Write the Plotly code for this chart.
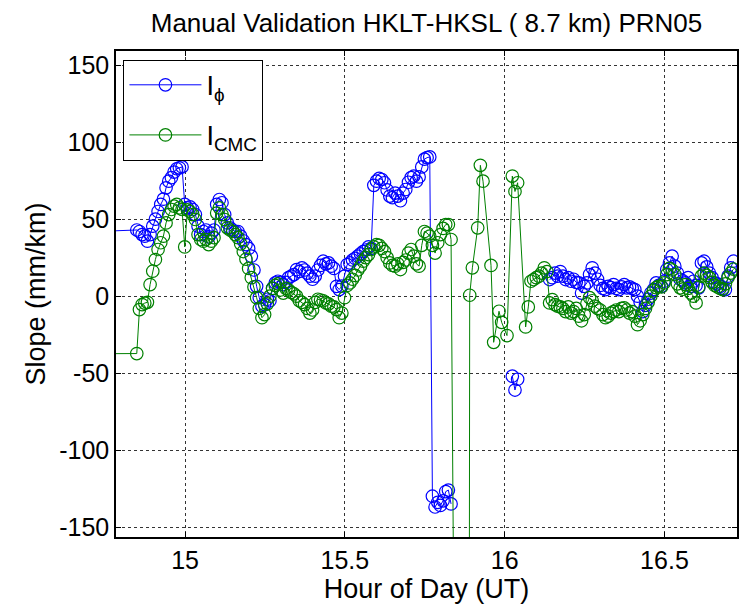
import numpy as np
import plotly.graph_objects as go

# 30-second epochs, hour of day (UT)
t_start = 14.849
n_epochs = 225
hours = t_start + np.arange(n_epochs) / 120.0

# epoch preceding the plotted window (joins the trace to the left edge)
hour_prev = 14.6
phi_prev = 41.0
cmc_prev = -37.5

nan = float("nan")

# Ionospheric slope from carrier phase, mm/km
slope_phi = [
    43, 42, 40, 39, 35.7, 40, 45.5, 50, 55, 59.6,
    63, 70.4, 74.7, 77, 80.6, 82.8, 83.4, 84, 59.6, 57.4,
    58, 56.3, 53, 45.5, 40, 42, 43, 38.5, 41, 43,
    59.6, 62.8, 60.7, 53, 47.6, 44.4, 43, 42, 42, 39,
    36, 33.5, 31, 26, 17, 6.4, -1, -6.5, -5.5, -2,
    -3, 5, 8.6, 9.7, 9, 7.5, 9, 12, 13, 14,
    17.3, 16, 18.4, 17, 15, 13, 11, 13, 17, 20,
    22.7, 21, 21.6, 19.5, 18, 6.4, 4.3, 6.5, 13, 20.5,
    21.6, 23.5, 24.5, 26, 27.5, 29, 30, 32, 31, 72,
    74.7, 76.5, 75.8, 73.7, 69, 65, 64, 67, 65, 62,
    67, 69.3, 74, 77, 78, 74.7, 77.5, 84, 89, 90,
    90.5, -130, -137, -134, -136, -133, -127, -126, -135,
    nan, nan, nan, nan, nan, nan, nan, nan, nan, nan, nan,
    nan, nan, nan, nan, nan, nan, nan, nan, nan, nan, nan,
    -52, -61, -54,
    nan, nan, nan, nan, nan, nan, nan, nan, nan, nan, nan,
    10.8, 12, 15, 13, 16, 13, 10.8, 12, 9.7, 11,
    9, 8.6, 2, 6.4, 8.6, 14, 18.4, 15, 11, 7,
    5, 4.3, 6.4, 5.5, 7.5, 5, 4.3, 6, 7.5, 5.4,
    6, 5, 4.3, 0, -4, -10, -6, -2, 2, 4.3,
    8.6, 7, 6.4, 9.7, 17.3, 21.6, 26, 19.5, 15, 11,
    10, 8.6, 12, 6.4, 9.7, 7, 5.4, 21.6, 22.7, 19,
    15, 12, 8.6, 8, 6.4, 5, 4.3, 13, 18.4, 22.7,
]

# Ionospheric slope from code-minus-carrier, mm/km
slope_cmc = [
    -37.3, -8.7, -5.5, -4.5, -4, 7.5, 16.2, 23.8, 30.3, 34.7,
    39, 47.6, 53, 56.3, 58.5, 59.6, 57.4, 56.3, 32, 56,
    55, 53, 49.8, 40, 36.8, 35.7, 36.8, 33.5, 35.7, 38,
    54, 57.4, 53, 49.8, 44.4, 43, 42, 40, 38, 34,
    29, 24, 18, 12, 6, -1, -8, -14, -12, -5,
    0, 5, 7, 8, 4, 2, 5, 4, 2.5, 1.5,
    0, -3, -4, -5.5, -8, -11, -9, -4, -2, -2.5,
    -3, -4.4, -5, -6.5, -7, -8.7, -14, -11, -1, 7,
    8.6, 11, 13.5, 17, 19.5, 22.7, 25, 27, 30.3, 32,
    33.5, 33, 31, 29, 25, 21.6, 20, 19.5, 21, 17.3,
    22, 23.5, 28, 30.3, 26, 21, 19.5, 33, 42, 41,
    39, 33, 28, 34.7, 40, 44, 46.5, 46.5, 36.8,
    -200, -600, -900, -1200, -1300, -1400,
    0.6, 18.4, nan, 44.4, 85, 74.7,
    nan, nan, 20, -30, nan, -9.8, -17, nan, -25.6, nan,
    78, 68, 73.7, nan, nan, -20, -7, 9.7, 10.8, 12,
    13, 15, 18.4, 16, -4.4, -2.2, -5.5, -6.5, -7, -8,
    -10, -7, -11, -10, -8, -13, -16, -12, -5, -1,
    -3, -6.5, -8, -9, -12, -14, -13, -11, -10, -9,
    -10, -8, -7.6, -9, -11, -10, -13, -18.5, -16, -12,
    -8, -4, 0, 3.5, 5.5, 6.4, 6, 8.6, 14, 18,
    17, 14, 8, 5.4, 4.5, 7.5, 5, 2, 0, -4.4,
    6, 13, 15, 13.5, 12, 9, 7, 6, 5, 4.3,
    8, 12, 15, 17.5,
]

assert len(slope_phi) == n_epochs, len(slope_phi)
assert len(slope_cmc) == n_epochs, len(slope_cmc)

x_ticks = [15, 15.5, 16, 16.5]
x_tick_text = ["15", "15.5", "16", "16.5"]
y_ticks = [-150, -100, -50, 0, 50, 100, 150]
y_tick_text = ["-150", "-100", "-50", "0", "50", "100", "150"]

FONT = "Liberation Sans, Arial, Helvetica, sans-serif"

x_all = np.concatenate([[hour_prev], hours])
phi_all = np.concatenate([[phi_prev], np.array(slope_phi, dtype=float)])
cmc_all = np.concatenate([[cmc_prev], np.array(slope_cmc, dtype=float)])

fig = go.Figure()
fig.add_trace(go.Scatter(
    x=x_all, y=phi_all, mode="lines+markers",
    name="I<sub>\u03d5</sub>", legendgroup="phi",
    line=dict(color="#0000ff", width=1),
    marker=dict(symbol="circle-open", size=12.5, color="#0000ff",
                line=dict(width=1.2, color="#0000ff")),
    connectgaps=False,
))
fig.add_trace(go.Scatter(
    x=x_all, y=cmc_all, mode="lines+markers",
    name="I<sub>CMC</sub>", legendgroup="cmc",
    line=dict(color="#008000", width=1),
    marker=dict(symbol="circle-open", size=12.5, color="#008000",
                line=dict(width=1.2, color="#008000")),
    connectgaps=True,
))

axis_common = dict(
    showline=True, linecolor="black", linewidth=1.5, mirror="ticks",
    ticks="inside", ticklen=5, tickcolor="black", tickwidth=1,
    showgrid=True, gridcolor="#333333", griddash="dot", gridwidth=1,
    zeroline=False,
    tickfont=dict(family=FONT, size=25, color="black"),
)

fig.update_layout(
    width=753, height=609,
    margin=dict(l=116, r=16, t=51, b=72),
    paper_bgcolor="white", plot_bgcolor="white",
    font=dict(family=FONT, color="black"),
    title=dict(text="Manual Validation HKLT-HKSL ( 8.7 km) PRN05",
               x=0.5664, xanchor="center", y=0.962, yanchor="middle",
               yref="container",
               font=dict(family=FONT, size=26, color="black")),
    xaxis=dict(range=[14.784, 16.727], tickvals=x_ticks, ticktext=x_tick_text,
               title=dict(text="Hour of Day (UT)", standoff=5,
                          font=dict(family=FONT, size=27, color="black")),
               **axis_common),
    yaxis=dict(range=[-156.5, 159.3], tickvals=y_ticks, ticktext=y_tick_text,
               title=dict(text="Slope (mm/km)", standoff=6,
                          font=dict(family=FONT, size=27, color="black")),
               **axis_common),
    legend=dict(x=0.012, y=0.982, xanchor="left", yanchor="top",
                bgcolor="white", bordercolor="black", borderwidth=1,
                font=dict(family=FONT, size=27, color="black"),
                tracegroupgap=12, itemwidth=72),
    showlegend=True,
)

fig.write_html("out.html")
